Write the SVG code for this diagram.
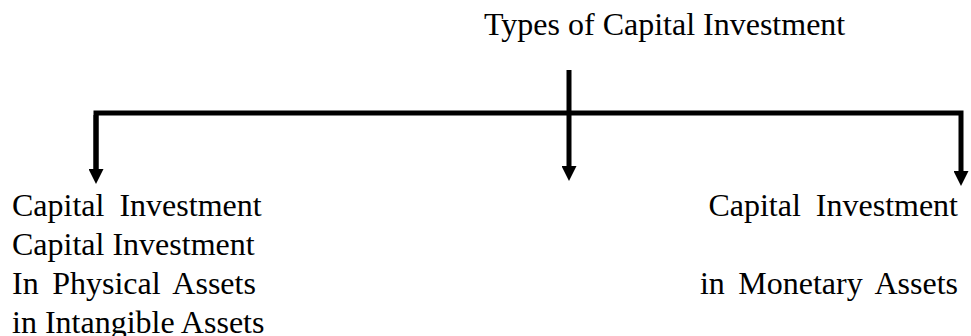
<svg xmlns="http://www.w3.org/2000/svg" width="971" height="336" viewBox="0 0 971 336">
  <defs>
    <marker id="arrow" markerUnits="userSpaceOnUse" markerWidth="15" markerHeight="15" viewBox="0 0 15 15" refX="0" refY="7.5" orient="auto">
      <path d="M0,0 L15,7.5 L0,15 z" fill="#000"/>
    </marker>
    <style>
      .t { font-family: "Liberation Serif", "Times New Roman", serif; font-size: 32px; fill: #000; }
      .c { stroke: #000; stroke-width: 5; fill: none; }
    </style>
  </defs>
  <rect width="971" height="336" fill="#fff"/>
  <g id="title">
    <text class="t" x="484" y="35">Types of Capital Investment</text>
  </g>
  <g id="connectors">
    <path class="c" d="M96,169 L96,113 L961,113 L961,171" marker-end="url(#arrow)"/>
    <line class="c" x1="96" y1="115" x2="96" y2="169" marker-end="url(#arrow)"/>
    <line class="c" x1="569" y1="70" x2="569" y2="166" marker-end="url(#arrow)"/>
  </g>
  <g id="left-node">
    <text class="t" x="12" y="216" word-spacing="7">Capital Investment</text>
    <text class="t" x="12" y="255">Capital Investment</text>
    <text class="t" x="12" y="294" word-spacing="5.5">In Physical Assets</text>
    <text class="t" x="12" y="333">in Intangible Assets</text>
  </g>
  <g id="right-node">
    <text class="t" x="958" y="216" text-anchor="end" word-spacing="7">Capital Investment</text>
    <text class="t" x="958" y="294" text-anchor="end" word-spacing="5.5">in Monetary Assets</text>
  </g>
</svg>
